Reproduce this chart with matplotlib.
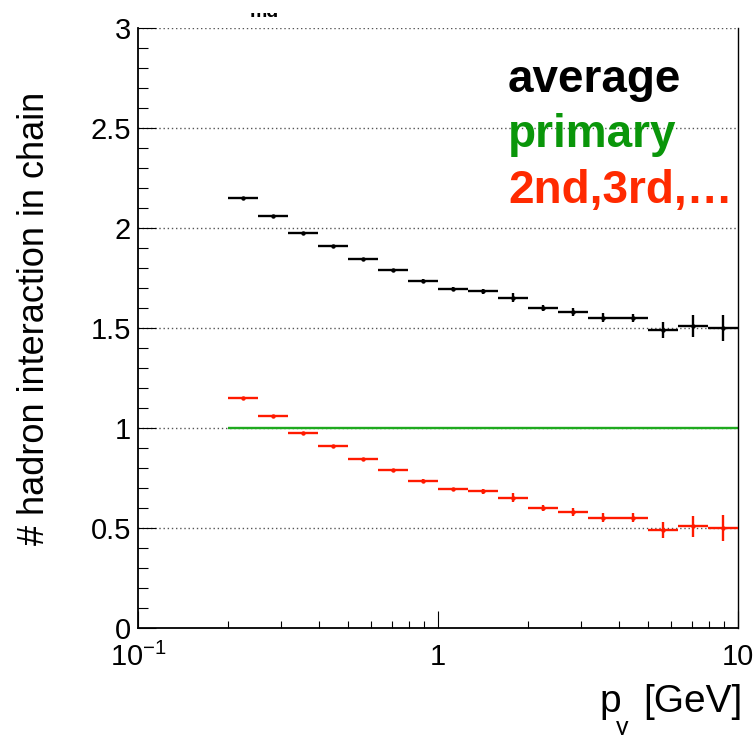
import numpy as np
import matplotlib
matplotlib.use("Agg")
import matplotlib.pyplot as plt
from matplotlib.ticker import FixedLocator, NullFormatter, MultipleLocator
from matplotlib.patches import Rectangle

plt.rcParams['font.family'] = ['Liberation Sans', 'DejaVu Sans']

# ---- data ----
bin_lo, bin_hi, n_bins = 0.2, 10.0, 17
avg_vals = [2.150, 2.060, 1.973, 1.910, 1.843, 1.788, 1.737, 1.697, 1.683,
            1.652, 1.600, 1.578, 1.552, 1.550, 1.492, 1.510, 1.500]
avg_errs = [0.003, 0.003, 0.004, 0.004, 0.005, 0.006, 0.006, 0.007, 0.013,
            0.022, 0.015, 0.020, 0.022, 0.022, 0.040, 0.053, 0.063]
sec_vals = [1.150, 1.058, 0.973, 0.910, 0.843, 0.788, 0.737, 0.695, 0.683,
            0.652, 0.600, 0.578, 0.552, 0.552, 0.492, 0.508, 0.500]
sec_errs = avg_errs
prim_vals = [1.0] * 17

x_ticks = [0.1, 1, 10]
x_ticklabels = [r'$\mathregular{10^{-1}}$', '1', '10']
y_ticks = [0, 0.5, 1, 1.5, 2, 2.5, 3]
y_ticklabels = ['0', '0.5', '1', '1.5', '2', '2.5', '3']

edges = np.logspace(np.log10(bin_lo), np.log10(bin_hi), n_bins + 1)
xc = np.sqrt(edges[:-1] * edges[1:])
xerr = np.vstack([xc - edges[:-1], edges[1:] - xc])

W, H = 756, 735
fig = plt.figure(figsize=(W / 100, H / 100), dpi=100)
ax = fig.add_axes([138 / W, 1 - 628 / H, 600 / W, 600 / H])

ax.set_xscale('log')
ax.set_xlim(0.1, 10)
ax.set_ylim(0, 3)

# grid
for yv in y_ticks[1:]:
    ax.axhline(yv, color='#555555', lw=1.0, ls=(0, (1, 2)), zorder=1)

ax.errorbar(xc, prim_vals, xerr=xerr, fmt='none', ecolor='#1faa1f',
            elinewidth=1.7, capsize=0, zorder=2)
ax.errorbar(xc, avg_vals, xerr=xerr, yerr=avg_errs, fmt='o', color='black',
            ms=2.2, ecolor='black', elinewidth=1.7, capsize=0, zorder=3)
ax.errorbar(xc, sec_vals, xerr=xerr, yerr=sec_errs, fmt='o', color='#ff1a00',
            ms=2.2, ecolor='#ff1a00', elinewidth=1.7, capsize=0, zorder=3)

# axes styling
ax.spines['top'].set_visible(False)
for s in ['left', 'bottom']:
    ax.spines[s].set_linewidth(1.3)
ax.spines['right'].set_linewidth(1.0)

ax.xaxis.set_major_locator(FixedLocator(x_ticks))
ax.set_xticklabels(x_ticklabels)
minor_x = [m * d for d in (0.1, 1) for m in range(2, 10)]
ax.xaxis.set_minor_locator(FixedLocator(minor_x))
ax.xaxis.set_minor_formatter(NullFormatter())
ax.set_yticks(y_ticks)
ax.set_yticklabels(y_ticklabels)
ax.yaxis.set_minor_locator(MultipleLocator(0.1))

ax.tick_params(axis='both', which='both', direction='in', top=False, right=False)
ax.tick_params(axis='x', which='major', length=12, width=0.8, labelsize=21, pad=11)
ax.tick_params(axis='x', which='minor', length=5, width=0.8)
ax.tick_params(axis='y', which='major', length=13, width=0.8, labelsize=21, pad=5)
ax.tick_params(axis='y', which='minor', length=7, width=0.8)

# legend texts
fig.text(508 / W, 1 - 92 / H, 'average', fontsize=33,
         fontweight='bold', color='black', va='baseline', ha='left')
fig.text(508 / W, 1 - 147 / H, 'primary', fontsize=33,
         fontweight='bold', color='#0a960a', va='baseline', ha='left')
fig.text(508 / W, 1 - 203 / H, '2nd,3rd,\u2026', fontsize=33,
         fontweight='bold', color='#ff2a00', va='baseline', ha='left')

# axis titles
fig.text(35 / W, 1 - 318 / H, '# hadron interaction in chain', rotation=90,
         fontsize=26, ha='center', va='center')
fig.text(599 / W, 1 - 712 / H, 'p', fontsize=28, ha='left', va='baseline')
fig.text(622 / W, 1 - 735 / H, '\u03b3', fontsize=18, ha='center', va='baseline')
fig.text(742 / W, 1 - 712 / H, '[GeV]', fontsize=28, ha='right', va='baseline')

# title remnant at top (only its lower edge is visible)
fig.text(250 / W, 1 - 17 / H, 'md', fontsize=14, fontweight='bold',
         ha='left', va='baseline', zorder=3)
fig.add_artist(Rectangle((0, 1 - 13 / H), 1, 13 / H, transform=fig.transFigure,
                         facecolor='white', edgecolor='none', zorder=10))

fig.savefig('out.png', dpi=100)
